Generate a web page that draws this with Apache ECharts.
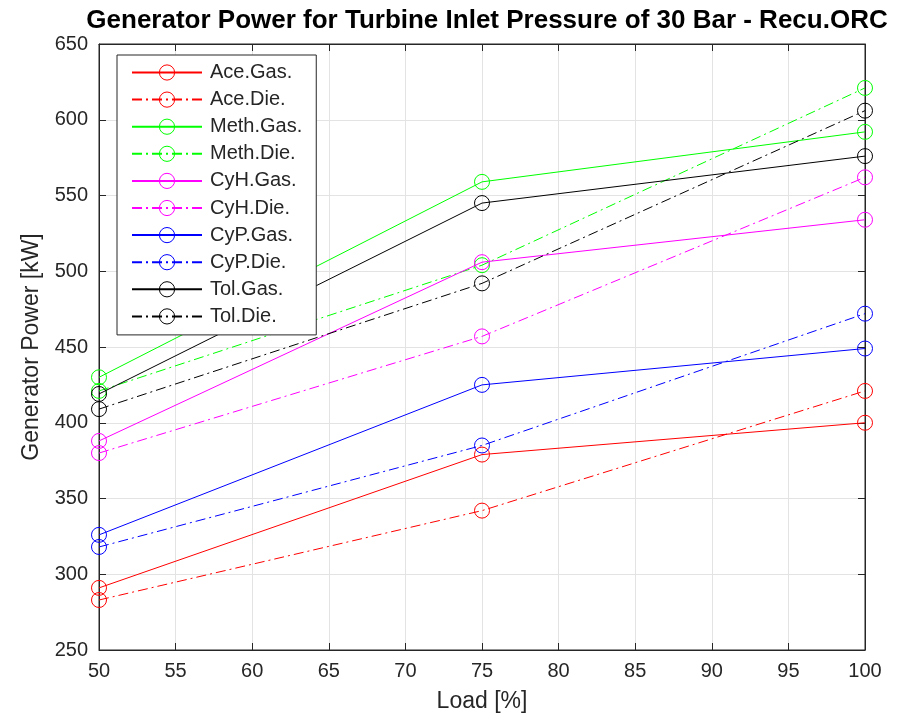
<!DOCTYPE html>
<html>
<head>
<meta charset="utf-8">
<script src="https://cdn.jsdelivr.net/npm/echarts@6/dist/echarts.min.js"></script>
<style>
html,body{margin:0;padding:0;background:#fff;}
#chart{width:908px;height:720px;}
</style>
</head>
<body>
<div id="chart"></div>
<script>
const loads = [50, 75, 100];
const aceGas = [291, 379, 400];
const aceDie = [283, 342, 421];
const methGas = [430, 559, 592];
const methDie = [421, 504, 621];
const cyhGas = [388, 506, 534];
const cyhDie = [380, 457, 562];
const cypGas = [326, 425, 449];
const cypDie = [318, 385, 472];
const tolGas = [419, 545, 576];
const tolDie = [409, 492, 606];

const seriesNames = ['Ace.Gas.', 'Ace.Die.', 'Meth.Gas.', 'Meth.Die.', 'CyH.Gas.', 'CyH.Die.', 'CyP.Gas.', 'CyP.Die.', 'Tol.Gas.', 'Tol.Die.'];
const seriesValues = [aceGas, aceDie, methGas, methDie, cyhGas, cyhDie, cypGas, cypDie, tolGas, tolDie];
const seriesColors = ['#ff0000', '#ff0000', '#00ff00', '#00ff00', '#ff00ff', '#ff00ff', '#0000ff', '#0000ff', '#000000', '#000000'];
const seriesDashed = [false, true, false, true, false, true, false, true, false, true];

const FONT = "'Liberation Sans', Arial, Helvetica, sans-serif";
const AX = '#262626';

const chart = echarts.init(document.getElementById('chart'), null, {renderer: 'canvas'});

const series = seriesNames.map((name, i) => ({
  name: name,
  type: 'line',
  data: loads.map((x, j) => [x, seriesValues[i][j]]),
  symbol: 'circle',
  symbolSize: 15,
  lineStyle: {color: seriesColors[i], width: 1, type: seriesDashed[i] ? [10, 4, 2, 4] : 'solid'},
  itemStyle: {color: 'transparent', borderColor: seriesColors[i], borderWidth: 1},
  emphasis: {disabled: true},
  animation: false,
  z: 2 + i
}));

const option = {
  backgroundColor: '#ffffff',
  animation: false,
  title: {
    text: 'Generator Power for Turbine Inlet Pressure of 30 Bar - Recu.ORC',
    left: 482,
    top: 3,
    textAlign: 'center',
    textStyle: {fontFamily: FONT, fontWeight: 'bold', fontSize: 26, color: '#000'}
  },
  grid: {left: 99, right: 43, top: 44, bottom: 70, show: true, borderColor: AX, borderWidth: 1, backgroundColor: '#fff'},
  legend: {
    orient: 'vertical',
    left: 117,
    top: 55,
    data: seriesNames,
    itemWidth: 70,
    itemHeight: 19,
    itemGap: 7.1,
    padding: [7.5, 14, 8.5, 14],
    backgroundColor: '#ffffff',
    borderColor: AX,
    borderWidth: 1,
    borderRadius: 0,
    itemStyle: {borderWidth: 1},
    textStyle: {fontFamily: FONT, fontSize: 20, color: AX, lineHeight: 19, padding: [0, 0, 0, 3]},
    z: 20
  },
  xAxis: [{
    type: 'value',
    min: 50, max: 100, interval: 5,
    name: 'Load [%]',
    nameLocation: 'middle',
    nameGap: 40,
    nameTextStyle: {fontFamily: FONT, fontSize: 23, color: AX},
    axisLine: {show: true, lineStyle: {color: AX, width: 1}},
    axisTick: {show: true, inside: true, length: 7, lineStyle: {color: AX}},
    axisLabel: {fontFamily: FONT, fontSize: 20, color: AX, margin: 11},
    splitLine: {show: true, lineStyle: {color: '#e3e3e3', width: 1}}
  }, {
    type: 'value',
    position: 'top',
    min: 50, max: 100, interval: 5,
    axisLine: {show: true, lineStyle: {color: AX, width: 1}},
    axisTick: {show: true, inside: true, length: 7, lineStyle: {color: AX}},
    axisLabel: {show: false},
    splitLine: {show: false}
  }],
  yAxis: [{
    type: 'value',
    min: 250, max: 650, interval: 50,
    name: 'Generator Power [kW]',
    nameLocation: 'middle',
    nameGap: 56,
    nameTextStyle: {fontFamily: FONT, fontSize: 23, color: AX},
    axisLine: {show: true, lineStyle: {color: AX, width: 1}},
    axisTick: {show: true, inside: true, length: 7, lineStyle: {color: AX}},
    axisLabel: {fontFamily: FONT, fontSize: 20, color: AX, margin: 11},
    splitLine: {show: true, lineStyle: {color: '#e3e3e3', width: 1}}
  }, {
    type: 'value',
    position: 'right',
    min: 250, max: 650, interval: 50,
    axisLine: {show: true, lineStyle: {color: AX, width: 1}},
    axisTick: {show: true, inside: true, length: 7, lineStyle: {color: AX}},
    axisLabel: {show: false},
    splitLine: {show: false}
  }],
  series: series
};
chart.setOption(option);
</script>
</body>
</html>
